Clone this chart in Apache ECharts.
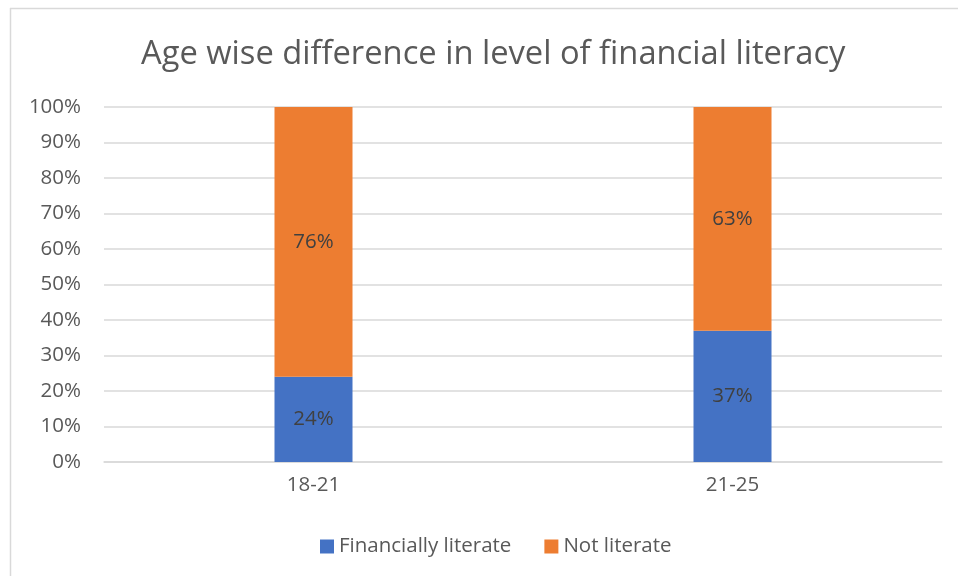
<!DOCTYPE html>
<html>
<head>
<meta charset="utf-8">
<script src="https://cdn.jsdelivr.net/npm/echarts@6/dist/echarts.min.js"></script>
<style>
  html, body { margin: 0; padding: 0; background: #fff; }
  #chart { width: 958px; height: 576px; }
</style>
</head>
<body>
<div id="chart"></div>
<script>
// Age groups on the x-axis
const categories = ['18-21', '21-25'];
// Share of respondents (percent) in each group
const financiallyLiterate = [24, 37];
const notLiterate = [76, 63];
// Y-axis ticks
const yTicks = [0, 10, 20, 30, 40, 50, 60, 70, 80, 90, 100];

const font = '"Open Sans", "Noto Sans", sans-serif';
const textGrey = '#595959';
const textSize = 20.5;

const chart = echarts.init(document.getElementById('chart'), null, { renderer: 'canvas' });

const labelStyle = {
  show: true,
  position: 'inside',
  formatter: p => p.value + '%',
  color: '#404040',
  fontSize: textSize,
  fontFamily: font
};

chart.setOption({
  animation: false,
  backgroundColor: '#fff',
  title: {
    text: 'Age wise difference in level of financial literacy',
    left: 136,
    top: 33,
    textStyle: { color: textGrey, fontSize: 32.7, fontWeight: 'normal', fontFamily: font }
  },
  graphic: [
    { type: 'line', shape: { x1: 10, y1: 8.5, x2: 958, y2: 8.5 }, style: { stroke: '#d9d9d9', lineWidth: 1.5 } },
    { type: 'line', shape: { x1: 10.5, y1: 8, x2: 10.5, y2: 576 }, style: { stroke: '#d9d9d9', lineWidth: 1.5 } }
  ],
  legend: {
    bottom: 14,
    left: 315,
    itemWidth: 14,
    itemHeight: 14,
    itemGap: 33,
    icon: 'rect',
    textStyle: { color: textGrey, fontSize: textSize, fontFamily: font },
    data: ['Financially literate', 'Not literate']
  },
  grid: { left: 104, right: 16, top: 107, bottom: 114 },
  xAxis: {
    type: 'category',
    data: categories,
    axisLine: { lineStyle: { color: '#d9d9d9', width: 1.5 } },
    axisTick: { show: false },
    axisLabel: { color: textGrey, fontSize: textSize, fontFamily: font, margin: 13 }
  },
  yAxis: {
    type: 'value',
    min: yTicks[0],
    max: yTicks[yTicks.length - 1],
    interval: 10,
    axisLine: { show: false },
    axisTick: { show: false },
    splitLine: { lineStyle: { color: '#d9d9d9', width: 1.5 } },
    axisLabel: { color: textGrey, fontSize: textSize, fontFamily: font, margin: 23, formatter: v => v + '%' }
  },
  series: [
    {
      name: 'Financially literate',
      type: 'bar',
      stack: 'total',
      barWidth: 78,
      data: financiallyLiterate,
      itemStyle: { color: '#4472C4' },
      label: labelStyle
    },
    {
      name: 'Not literate',
      type: 'bar',
      stack: 'total',
      barWidth: 78,
      data: notLiterate,
      itemStyle: { color: '#ED7D31' },
      label: labelStyle
    }
  ]
});
</script>
</body>
</html>
